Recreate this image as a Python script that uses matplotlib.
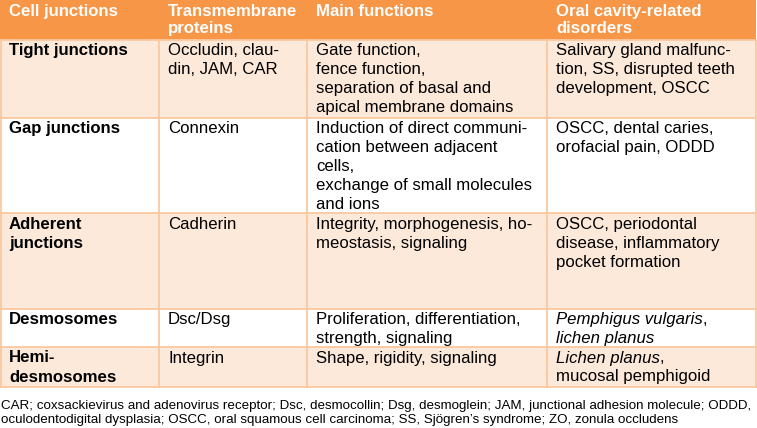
import matplotlib
matplotlib.use("Agg")
import matplotlib.pyplot as plt
from matplotlib.patches import Rectangle

# ---- table content ----
headers = ["Cell junctions", "Transmembrane\nproteins", "Main functions",
           "Oral cavity-related\ndisorders"]
junctions = ["Tight junctions", "Gap junctions", "Adherent\njunctions",
             "Desmosomes", "Hemi-\ndesmosomes"]
proteins = ["Occludin, clau-\ndin, JAM, CAR", "Connexin", "Cadherin",
            "Dsc/Dsg", "Integrin"]
functions = ["Gate function,\nfence function,\nseparation of basal and\napical membrane domains",
             "Induction of direct communi-\ncation between adjacent\ncells,\nexchange of small molecules\nand ions",
             "Integrity, morphogenesis, ho-\nmeostasis, signaling",
             "Proliferation, differentiation,\nstrength, signaling",
             "Shape, rigidity, signaling"]
disorders = ["Salivary gland malfunc-\ntion, SS, disrupted teeth\ndevelopment, OSCC",
             "OSCC, dental caries,\norofacial pain, ODDD",
             "OSCC, periodontal\ndisease, inflammatory\npocket formation",
             "*Pemphigus vulgaris*,\n*lichen planus*",
             "*Lichen planus*,\nmucosal pemphigoid"]
footnote = ["CAR; coxsackievirus and adenovirus receptor; Dsc, desmocollin; Dsg, desmoglein; JAM, junctional adhesion molecule; ODDD,",
            "oculodentodigital dysplasia; OSCC, oral squamous cell carcinoma; SS, Sj\u00f6gren\u2019s syndrome; ZO, zonula occludens"]

# ---- layout (pixels) ----
W, H = 757, 428
col_edges = [0, 159, 307, 547, 756]
row_edges = [0, 39.5, 117.5, 213, 308.5, 347, 387]
row_fill = ["#FDE9DA", "#FFFFFF", "#FDE9DA", "#FFFFFF", "#FDE9DA"]
header_col = "#F79646"
line_col = "#FAC8A0"
pad_x = 9
fs = 12.1
line_step = 19
fam = ["Liberation Sans", "DejaVu Sans"]

fig = plt.figure(figsize=(W / 100, H / 100), dpi=100)
ax = fig.add_axes([0, 0, 1, 1])
ax.set_xlim(0, W)
ax.set_ylim(H, 0)
ax.axis("off")

# backgrounds
ax.add_patch(Rectangle((0, 0), col_edges[-1], row_edges[1], facecolor=header_col,
                       edgecolor="none", zorder=1))
for i, c in enumerate(row_fill):
    ax.add_patch(Rectangle((0, row_edges[i + 1]), col_edges[-1],
                           row_edges[i + 2] - row_edges[i + 1],
                           facecolor=c, edgecolor="none", zorder=1))
# grid lines
for y in row_edges[1:]:
    ax.plot([0, col_edges[-1]], [y, y], color=line_col, lw=1.3, zorder=2)
for x in col_edges[1:]:
    ax.plot([x, x], [row_edges[1], row_edges[-1]], color=line_col, lw=1.3, zorder=2)
ax.plot([0.6, 0.6], [row_edges[1], row_edges[-1]], color=line_col, lw=1.3, zorder=2)

fig.canvas.draw()
renderer = fig.canvas.get_renderer()


def draw_rich_line(x, y, line, weight="normal", color="black", size=fs):
    parts = line.split("*")
    cx = x
    for k, seg in enumerate(parts):
        if not seg:
            continue
        style = "italic" if k % 2 == 1 else "normal"
        t = ax.text(cx, y, seg, fontsize=size, family=fam, fontstyle=style,
                    fontweight=weight, color=color, va="baseline", ha="left", zorder=3)
        bb = t.get_window_extent(renderer=renderer)
        cx += bb.width  # data units == pixels


def draw_cell(ci, top, text, weight="normal", color="black", step=line_step, base=15.5):
    x = col_edges[ci] + pad_x
    for li, line in enumerate(text.split("\n")):
        draw_rich_line(x, top + base + li * step, line, weight=weight, color=color)


for ci, h in enumerate(headers):
    draw_cell(ci, 0, h, weight="bold", color="white", step=17, base=16)

for ri in range(len(junctions)):
    top = row_edges[ri + 1]
    draw_cell(0, top, junctions[ri], weight="bold")
    draw_cell(1, top, proteins[ri])
    draw_cell(2, top, functions[ri])
    draw_cell(3, top, disorders[ri])

# footnote: fit the first line to the width of the table
probe = ax.text(0, 0, footnote[0], fontsize=10, family=fam)
wpx = probe.get_window_extent(renderer=renderer).width
probe.remove()
fn_fs = 10 * 751 / wpx
for li, line in enumerate(footnote):
    ax.text(1, 409 + li * 14, line, fontsize=fn_fs, family=fam, color="black",
            va="baseline", ha="left", zorder=3)

fig.savefig("out.png", dpi=100)
